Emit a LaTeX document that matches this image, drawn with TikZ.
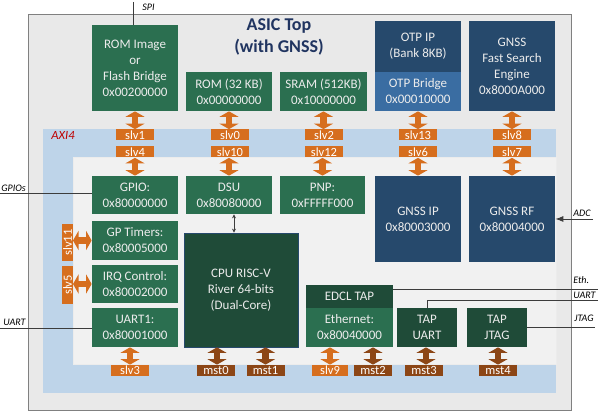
\documentclass[tikz,border=0pt]{standalone}
\usepackage{fontspec}
\setmainfont{Carlito}
\usetikzlibrary{arrows.meta}

\definecolor{boxgreen}{RGB}{43,111,80}
\definecolor{boxdkgreen}{RGB}{31,75,56}
\definecolor{boxnavy}{RGB}{38,73,108}
\definecolor{boxblue}{RGB}{58,109,162}
\definecolor{boxtext}{RGB}{236,236,236}
\definecolor{slvorange}{RGB}{214,110,30}
\definecolor{mstbrown}{RGB}{140,70,22}
\definecolor{busblue}{RGB}{190,212,233}
\definecolor{chipgray}{RGB}{233,233,233}
\definecolor{coregray}{RGB}{241,241,241}
\definecolor{chipedge}{RGB}{128,128,128}
\definecolor{titlenavy}{RGB}{32,52,96}
\definecolor{wiregray}{RGB}{60,60,60}

\tikzset{every picture/.style={line width=0.75pt}}
\tikzset{
  blk/.style={inner sep=0pt, align=center, text=boxtext, font=\fontsize{13}{16}\selectfont},
  gbox/.style={blk, fill=boxgreen},
  dgbox/.style={blk, fill=boxdkgreen},
  nbox/.style={blk, fill=boxnavy},
  slvlab/.style={fill=slvorange, text=white, inner sep=0pt, minimum width=38pt, minimum height=11pt, font=\fontsize{12.5}{12}\selectfont},
  mstlab/.style={slvlab, fill=mstbrown},
  slvbar/.style={line width=6.5pt, draw=slvorange, {Triangle[width=19pt,length=5.5pt]}-{Triangle[width=19pt,length=5.5pt]}},
  mstbar/.style={slvbar, draw=mstbrown},
  wire/.style={draw=wiregray, line width=0.8pt},
  wirelab/.style={inner sep=0pt, text=black, font=\itshape\fontsize{10}{10}\selectfont}
}

\begin{document}
\begin{tikzpicture}[x=1pt,y=1pt,yscale=-1,xscale=1]
\useasboundingbox (0,0) rectangle (598,414);

% chip, bus and core area
\draw [draw=chipedge, fill=chipgray] (28,14) rectangle (571,410);
\fill [busblue] (43,129) rectangle (556,393);
\draw [draw=white!85!gray, fill=coregray] (73,157) rectangle (556,364);

\node [font=\bfseries\fontsize{18}{22}\selectfont, text=titlenavy, align=center] (title) at (279,37) {ASIC Top\\(with GNSS)};
\node [font=\itshape\fontsize{12.5}{12}\selectfont, text=red!75!black] (axi) at (63,135) {AXI4};

% top row
\node [gbox, minimum width=86pt, minimum height=86pt] (romimg) at (135,68) {ROM Image\\or\\Flash Bridge\\0x00200000};
\node [gbox, minimum width=86pt, minimum height=39pt] (rom) at (229,91.5) {ROM (32 KB)\\0x00000000};
\node [gbox, minimum width=87pt, minimum height=39pt] (sram) at (323.5,91.5) {SRAM (512KB)\\0x10000000};
\node [nbox, minimum width=86pt, minimum height=51pt] (otpip) at (418,46.5) {OTP IP\\(Bank 8KB)};
\node [blk, fill=boxblue, minimum width=86pt, minimum height=39pt] (otpbr) at (418,91.5) {OTP Bridge\\0x00010000};
\node [nbox, minimum width=86pt, minimum height=90pt] (gnssfse) at (512,66) {GNSS\\Fast Search\\Engine\\0x8000A000};

% second row
\node [gbox, minimum width=86pt, minimum height=38pt] (gpio) at (135,195) {GPIO:\\0x80000000};
\node [gbox, minimum width=86pt, minimum height=38pt] (dsu) at (229,195) {DSU\\0x80080000};
\node [gbox, minimum width=85pt, minimum height=38pt] (pnp) at (322.5,195) {PNP:\\0xFFFFF000};
\node [nbox, minimum width=86pt, minimum height=86pt] (gnssip) at (418,219) {GNSS IP\\0x80003000};
\node [nbox, minimum width=86pt, minimum height=86pt] (gnssrf) at (512,219) {GNSS RF\\0x80004000};

% left column and cpu
\node [gbox, minimum width=86pt, minimum height=39pt] (timers) at (135,240.5) {GP Timers:\\0x80005000};
\node [gbox, minimum width=86pt, minimum height=38pt] (irq) at (135,284) {IRQ Control:\\0x80002000};
\node [gbox, minimum width=86pt, minimum height=39pt] (uart1) at (135,327.5) {UART1:\\0x80001000};
\node [dgbox, draw=boxnavy, minimum width=114pt, minimum height=114pt] (cpu) at (241,290) {CPU RISC-V\\River 64-bits\\(Dual-Core)};

% debug taps
\node [dgbox, minimum width=87pt, minimum height=23pt] (edcl) at (349.5,296.5) {EDCL TAP};
\node [gbox, minimum width=87pt, minimum height=39pt] (eth) at (349.5,327.5) {Ethernet:\\0x80040000};
\node [dgbox, minimum width=60pt, minimum height=39pt] (tapuart) at (427,327.5) {TAP\\UART};
\node [dgbox, minimum width=60pt, minimum height=39pt] (tapjtag) at (497,327.5) {TAP\\JTAG};

% slave / master ports
\node [slvlab] (slv1) at (135,135) {slv1};
\node [slvlab] (slv0) at (230,135) {slv0};
\node [slvlab] (slv2) at (324,135) {slv2};
\node [slvlab] (slv13) at (418,135) {slv13};
\node [slvlab] (slv8) at (512,135) {slv8};
\node [slvlab] (slv4) at (135,152) {slv4};
\node [slvlab] (slv10) at (230,152) {slv10};
\node [slvlab] (slv12) at (324,152) {slv12};
\node [slvlab] (slv6) at (418,152) {slv6};
\node [slvlab] (slv7) at (512,152) {slv7};
\node [slvlab, rotate=90, minimum width=37pt] (slv11) at (67.5,242.5) {slv11};
\node [slvlab, rotate=90, minimum width=38pt] (slv5) at (67.5,285) {slv5};
\node [slvlab] (slv3) at (130,370.5) {slv3};
\node [mstlab] (mst0) at (216,370.5) {mst0};
\node [mstlab] (mst1) at (265.5,370.5) {mst1};
\node [slvlab, minimum width=36pt] (slv9) at (330,370.5) {slv9};
\node [mstlab] (mst2) at (373,370.5) {mst2};
\node [mstlab] (mst3) at (424,370.5) {mst3};
\node [mstlab] (mst4) at (498,370.5) {mst4};

% bus arrows
\draw [slvbar] (romimg.south) -- (slv1.north);
\draw [slvbar] (rom.south) -- (rom.south |- slv0.north);
\draw [slvbar] (sram.south) -- (sram.south |- slv2.north);
\draw [slvbar] (otpbr.south) -- (slv13.north);
\draw [slvbar] (gnssfse.south) -- (slv8.north);
\draw [slvbar] (slv4.south) -- (gpio.north);
\draw [slvbar] (dsu.north |- slv10.south) -- (dsu.north);
\draw [slvbar] (pnp.north |- slv12.south) -- (pnp.north);
\draw [slvbar] (slv6.south) -- (gnssip.north);
\draw [slvbar] (slv7.south) -- (gnssrf.north);
\draw [slvbar] (timers.west) -- ([xshift=5.5pt]timers.west -| slv11.center);
\draw [slvbar] (irq.west) -- ([xshift=5.5pt]irq.west -| slv5.center);
\draw [slvbar] (slv3.north |- uart1.south) -- (slv3.north);
\draw [mstbar] ([xshift=1pt]mst0.north |- cpu.south) -- ([xshift=1pt]mst0.north);
\draw [mstbar] (mst1.north |- cpu.south) -- (mst1.north);
\draw [slvbar] (slv9.north |- eth.south) -- (slv9.north);
\draw [mstbar] (mst2.north |- eth.south) -- (mst2.north);
\draw [mstbar] ([xshift=2pt]mst3.north |- tapuart.south) -- ([xshift=2pt]mst3.north);
\draw [mstbar] (mst4.north |- tapjtag.south) -- (mst4.north);
\draw [wire, {Stealth[length=4pt,width=4pt]}-{Stealth[length=4pt,width=4pt]}] ([xshift=5pt]dsu.south) -- ([xshift=5pt]dsu.south |- cpu.north);

% external pins
\coordinate (spi) at (133,2);
\coordinate (gpios) at (0,193);
\coordinate (uartl) at (0,328);
\coordinate (adc) at (593,219);
\coordinate (ethp) at (598,289);
\coordinate (uartr) at (598,300);
\coordinate (jtag) at (595,327.5);
\draw [wire] (spi) -- (spi |- romimg.north);
\draw [wire] (gpios) -- (gpios -| gpio.west);
\draw [wire] (uartl) -- (uartl -| uart1.west);
\draw [wire, -{Latex[length=8pt,width=6pt]}] (adc) -- (adc -| gnssrf.east);
\draw [wire] (ethp) -- (ethp -| edcl.east);
\draw [wire] (tapuart.north) |- (uartr);
\draw [wire] (tapjtag.east) -- (jtag);
\node [wirelab, anchor=west] (spilab) at (142,7) {SPI};
\node [wirelab, anchor=west] (gpiolab) at (1,188) {GPIOs};
\node [wirelab, anchor=west] (uartllab) at (3,322) {UART};
\node [wirelab, anchor=west] (adclab) at (573,213) {ADC};
\node [wirelab, anchor=west] (ethlab) at (573,280) {Eth.};
\node [wirelab, anchor=west] (uartrlab) at (573,295) {UART};
\node [wirelab, anchor=west] (jtaglab) at (574,318) {JTAG};

\end{tikzpicture}
\end{document}
